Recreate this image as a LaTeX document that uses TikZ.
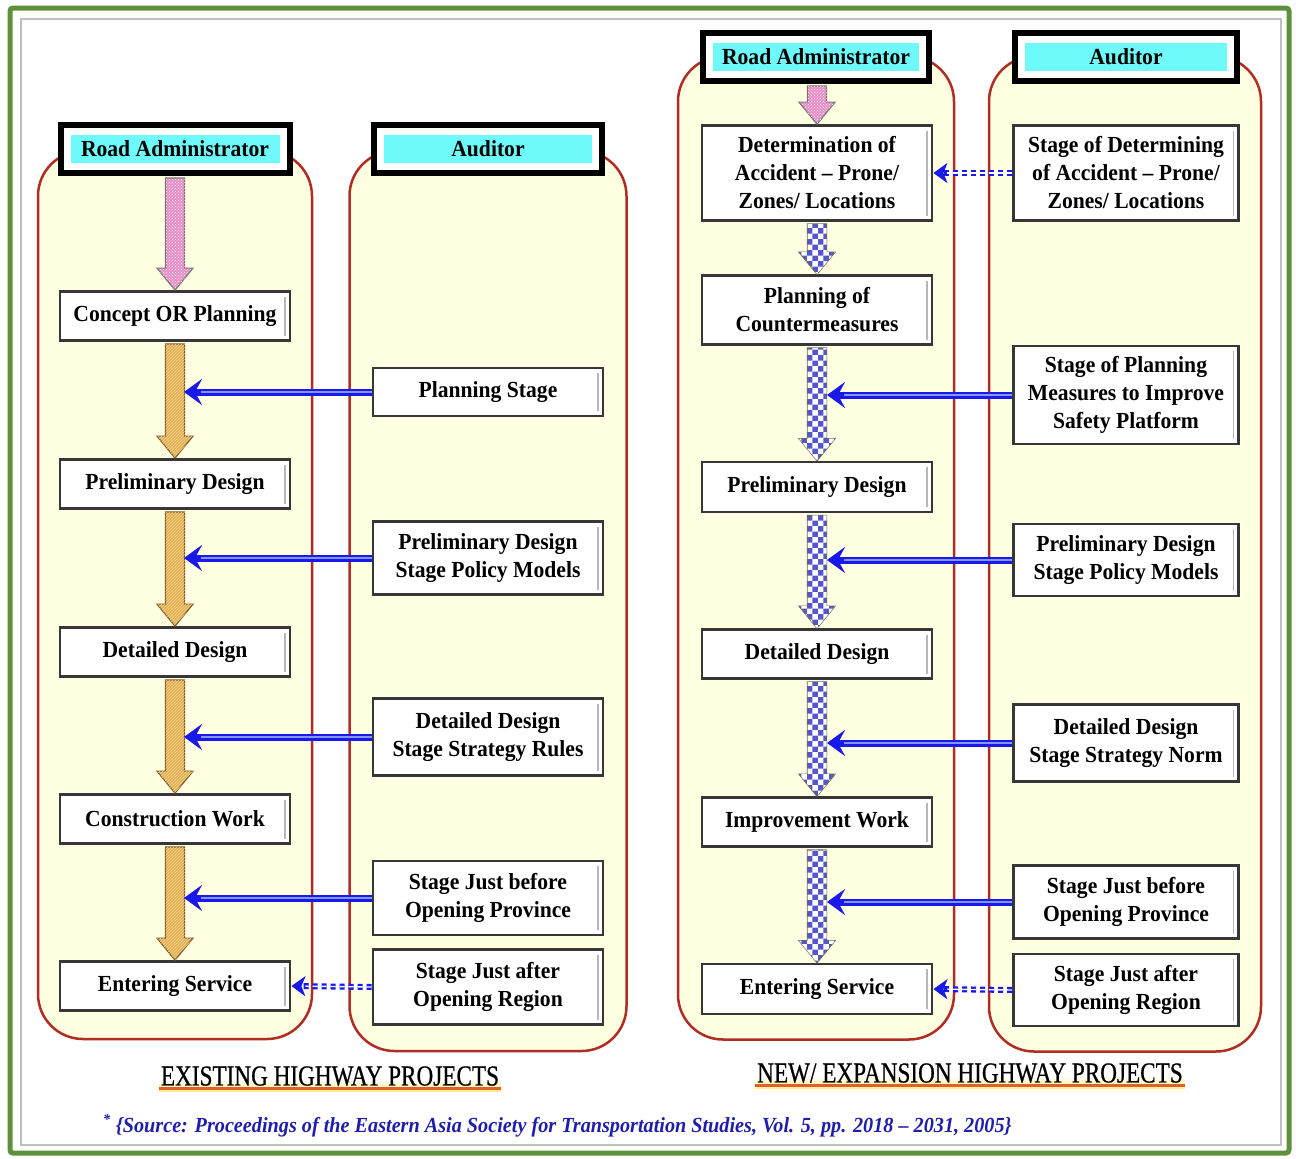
\documentclass[tikz,border=0pt]{standalone}
\usepackage{fontspec}
\setmainfont{Liberation Serif}[FakeStretch=0.94]
\newfontfamily\bannerfont{Liberation Serif}[FakeStretch=0.8,FakeBold=0.6]
\usetikzlibrary{arrows.meta,calc,patterns}

\definecolor{panelfill}{RGB}{255,255,226}
\definecolor{panelline}{RGB}{175,45,35}
\definecolor{headcyan}{RGB}{110,250,250}
\definecolor{boxline}{RGB}{55,55,55}
\definecolor{linkblue}{RGB}{25,25,235}
\definecolor{linklight}{RGB}{130,150,255}
\definecolor{goldfill}{RGB}{228,175,85}
\definecolor{goldlight}{RGB}{245,212,140}
\definecolor{goldline}{RGB}{125,90,40}
\definecolor{pinkfill}{RGB}{232,140,200}
\definecolor{checkblue}{RGB}{85,85,205}
\definecolor{framegreen}{RGB}{95,145,60}
\definecolor{srcblue}{RGB}{30,30,170}
\definecolor{bannerline}{RGB}{225,95,40}
\definecolor{bannerglow}{RGB}{255,238,140}

\newcommand\boxfont{\fontsize{23}{28}\selectfont\bfseries}

% broad hollow arrow pointing down from #2 to #3, drawn in style #1
\newcommand\fatarrow[3]{%
  \path[#1] let \p1=(#2), \p2=(#3) in
    (\x2-9.5pt,\y1-2pt) -- (\x2-9.5pt,\y2+22pt) -- (\x2-18pt,\y2+22pt) --
    (\x2,\y2) -- (\x2+18pt,\y2+22pt) -- (\x2+9.5pt,\y2+22pt) --
    (\x2+9.5pt,\y1-2pt) -- cycle;}

\tikzset{
  panel/.style={draw=panelline, line width=2.5pt, fill=panelfill, rounded corners=45pt},
  stagebox/.style={draw=boxline, line width=2.8pt, fill=white, align=center,
    inner sep=2pt, font=\boxfont,
    path picture={\draw[black!28, line width=1.6pt]
      ([shift={(-5pt,5pt)}]path picture bounding box.south east) --
      ([shift={(-5pt,-5pt)}]path picture bounding box.north east);}},
  headbox/.style={draw=black, line width=6pt, fill=white, minimum height=48pt,
    font=\boxfont,
    path picture={\fill[headcyan]
      ([shift={(10pt,10pt)}]path picture bounding box.south west) rectangle
      ([shift={(-10pt,-10pt)}]path picture bounding box.north east);}},
  pinkarrow/.style={fill=pinkfill, draw=black!55, line width=1.2pt,
    postaction={pattern=crosshatch dots, pattern color=white}},
  goldarrow/.style={fill=goldfill, draw=goldline, line width=1.2pt,
    postaction={pattern=north east lines, pattern color=goldlight}},
  checkarrow/.style={fill=checkblue, draw=black!60, line width=1.2pt,
    postaction={pattern=checkerboard, pattern color=white}},
  feedarrow/.style={draw=linkblue, line width=7pt,
    -{Stealth[length=18pt,width=26pt,inset=7pt]}},
  feedcore/.style={draw=linklight, line width=2pt, shorten >=17pt},
  dasharrow/.style={draw=linkblue, line width=6pt, dash pattern=on 5pt off 4pt,
    -{Stealth[length=14pt,width=20pt,inset=4pt]}},
  dashcore/.style={draw=white, line width=1.4pt, dash pattern=on 5pt off 4pt, shorten >=14pt},
  banner/.style={font=\bannerfont\fontsize{29}{31}\selectfont, inner xsep=2pt,
    inner ysep=0pt, top color=white, bottom color=bannerglow, middle color=white,
    path picture={\draw[bannerline, line width=3pt]
      ([yshift=3pt]path picture bounding box.south west) --
      ([yshift=3pt]path picture bounding box.south east);}},
}

\begin{document}
\begin{tikzpicture}[x=1pt,y=-1pt]
\useasboundingbox (0,0) rectangle (1296,1159);
\fill[white] (0,0) rectangle (1296,1159);

% outer frame
\draw[black!25, line width=2pt] (21,19) rectangle (1281,1145);
\draw[framegreen, line width=5pt, rounded corners=3pt] (10,8) rectangle (1289,1153);

% ---------------- existing highway projects ----------------
\node[panel, minimum width=274pt, minimum height=888pt] (lpanA) at (175,595) {};
\node[panel, minimum width=277pt, minimum height=900pt] (lpanB) at (488,601) {};

\node[headbox, minimum width=229pt] (lra) at (175,149) {Road Administrator};
\node[headbox, minimum width=228pt] (lau) at (488,149) {Auditor};

\node[stagebox, minimum width=230pt, minimum height=49pt] (c1) at (175,316) {Concept OR Planning};
\node[stagebox, minimum width=230pt, minimum height=49pt] (p1) at (175,484) {Preliminary Design};
\node[stagebox, minimum width=230pt, minimum height=49pt] (d1) at (175,652) {Detailed Design};
\node[stagebox, minimum width=230pt, minimum height=49pt] (cw) at (175,819) {Construction Work};
\node[stagebox, minimum width=230pt, minimum height=49pt] (es1) at (175,986) {Entering Service};

\node[stagebox, minimum width=230pt, minimum height=48pt] (a1) at (488,392) {Planning Stage};
\node[stagebox, minimum width=230pt, minimum height=73pt] (a2) at (488,558) {Preliminary Design\\Stage Policy Models};
\node[stagebox, minimum width=230pt, minimum height=77pt] (a3) at (488,737) {Detailed Design\\Stage Strategy Rules};
\node[stagebox, minimum width=230pt, minimum height=74pt] (a4) at (488,898) {Stage Just before\\Opening Province};
\node[stagebox, minimum width=230pt, minimum height=75pt] (a5) at (488,987) {Stage Just after\\Opening Region};

\fatarrow{pinkarrow}{lra.south}{c1.north}
\fatarrow{goldarrow}{c1.south}{p1.north}
\fatarrow{goldarrow}{p1.south}{d1.north}
\fatarrow{goldarrow}{d1.south}{cw.north}
\fatarrow{goldarrow}{cw.south}{es1.north}

\coordinate (lt1) at ($(a1.west -| c1.south)+(9,0)$);
\coordinate (lt2) at ($(a2.west -| c1.south)+(9,0)$);
\coordinate (lt3) at ($(a3.west -| c1.south)+(9,0)$);
\coordinate (lt4) at ($(a4.west -| c1.south)+(9,0)$);
\foreach \s/\t in {a1/lt1, a2/lt2, a3/lt3, a4/lt4}{
  \draw[feedarrow] (\s.west) -- (\t);
  \draw[feedcore] (\s.west) -- (\t);
}
\draw[dasharrow] (a5.west) -- (es1.east);
\draw[dashcore] (a5.west) -- (es1.east);

% ---------------- new / expansion highway projects ----------------
\node[panel, minimum width=276pt, minimum height=983pt] (rpanA) at (816,548) {};
\node[panel, minimum width=272pt, minimum height=995pt] (rpanB) at (1125,554) {};

\node[headbox, minimum width=226pt] (rra) at (816,57) {Road Administrator};
\node[headbox, minimum width=222pt] (rau) at (1126,57) {Auditor};

\node[stagebox, minimum width=230pt, minimum height=95pt] (r1) at (817,173) {Determination of\\Accident -- Prone/\\Zones/ Locations};
\node[stagebox, minimum width=230pt, minimum height=69pt] (r2) at (817,310) {Planning of\\Countermeasures};
\node[stagebox, minimum width=230pt, minimum height=50pt] (r3) at (817,487) {Preliminary Design};
\node[stagebox, minimum width=230pt, minimum height=49pt] (r4) at (817,654) {Detailed Design};
\node[stagebox, minimum width=230pt, minimum height=49pt] (r5) at (817,822) {Improvement Work};
\node[stagebox, minimum width=230pt, minimum height=50pt] (r6) at (817,989) {Entering Service};

\node[stagebox, minimum width=225pt, minimum height=95pt] (s1) at (1126,173) {Stage of Determining\\of Accident -- Prone/\\Zones/ Locations};
\node[stagebox, minimum width=225pt, minimum height=98pt] (s2) at (1126,395) {Stage of Planning\\Measures to Improve\\Safety Platform};
\node[stagebox, minimum width=225pt, minimum height=72pt] (s3) at (1126,560) {Preliminary Design\\Stage Policy Models};
\node[stagebox, minimum width=225pt, minimum height=77pt] (s4) at (1126,743) {Detailed Design\\Stage Strategy Norm};
\node[stagebox, minimum width=225pt, minimum height=73pt] (s5) at (1126,902) {Stage Just before\\Opening Province};
\node[stagebox, minimum width=225pt, minimum height=72pt] (s6) at (1126,990) {Stage Just after\\Opening Region};

\fatarrow{pinkarrow}{rra.south}{r1.north}
\fatarrow{checkarrow}{r1.south}{r2.north}
\fatarrow{checkarrow}{r2.south}{r3.north}
\fatarrow{checkarrow}{r3.south}{r4.north}
\fatarrow{checkarrow}{r4.south}{r5.north}
\fatarrow{checkarrow}{r5.south}{r6.north}

\coordinate (rt2) at ($(s2.west -| r1.south)+(10,0)$);
\coordinate (rt3) at ($(s3.west -| r1.south)+(10,0)$);
\coordinate (rt4) at ($(s4.west -| r1.south)+(10,0)$);
\coordinate (rt5) at ($(s5.west -| r1.south)+(10,0)$);
\foreach \s/\t in {s2/rt2, s3/rt3, s4/rt4, s5/rt5}{
  \draw[feedarrow] (\s.west) -- (\t);
  \draw[feedcore] (\s.west) -- (\t);
}
\draw[dasharrow] (s1.west) -- (r1.east);
\draw[dashcore] (s1.west) -- (r1.east);
\draw[dasharrow] (s6.west) -- (r6.east);
\draw[dashcore] (s6.west) -- (r6.east);

% ---------------- captions ----------------
\node[banner] (capA) at (330,1079) {\vphantom{g}EXISTING HIGHWAY PROJECTS};
\node[banner] (capB) at (970,1076) {\vphantom{g}NEW/ EXPANSION HIGHWAY PROJECTS};

\node[anchor=west, text=srcblue, inner sep=0pt,
      font=\fontsize{21.5}{24}\selectfont\bfseries\itshape] (src) at (103,1126)
  {\textsuperscript{*}\ \{Source: Proceedings of the Eastern Asia Society for Transportation Studies, Vol. 5, pp. 2018 -- 2031, 2005\}};
\end{tikzpicture}
\end{document}
